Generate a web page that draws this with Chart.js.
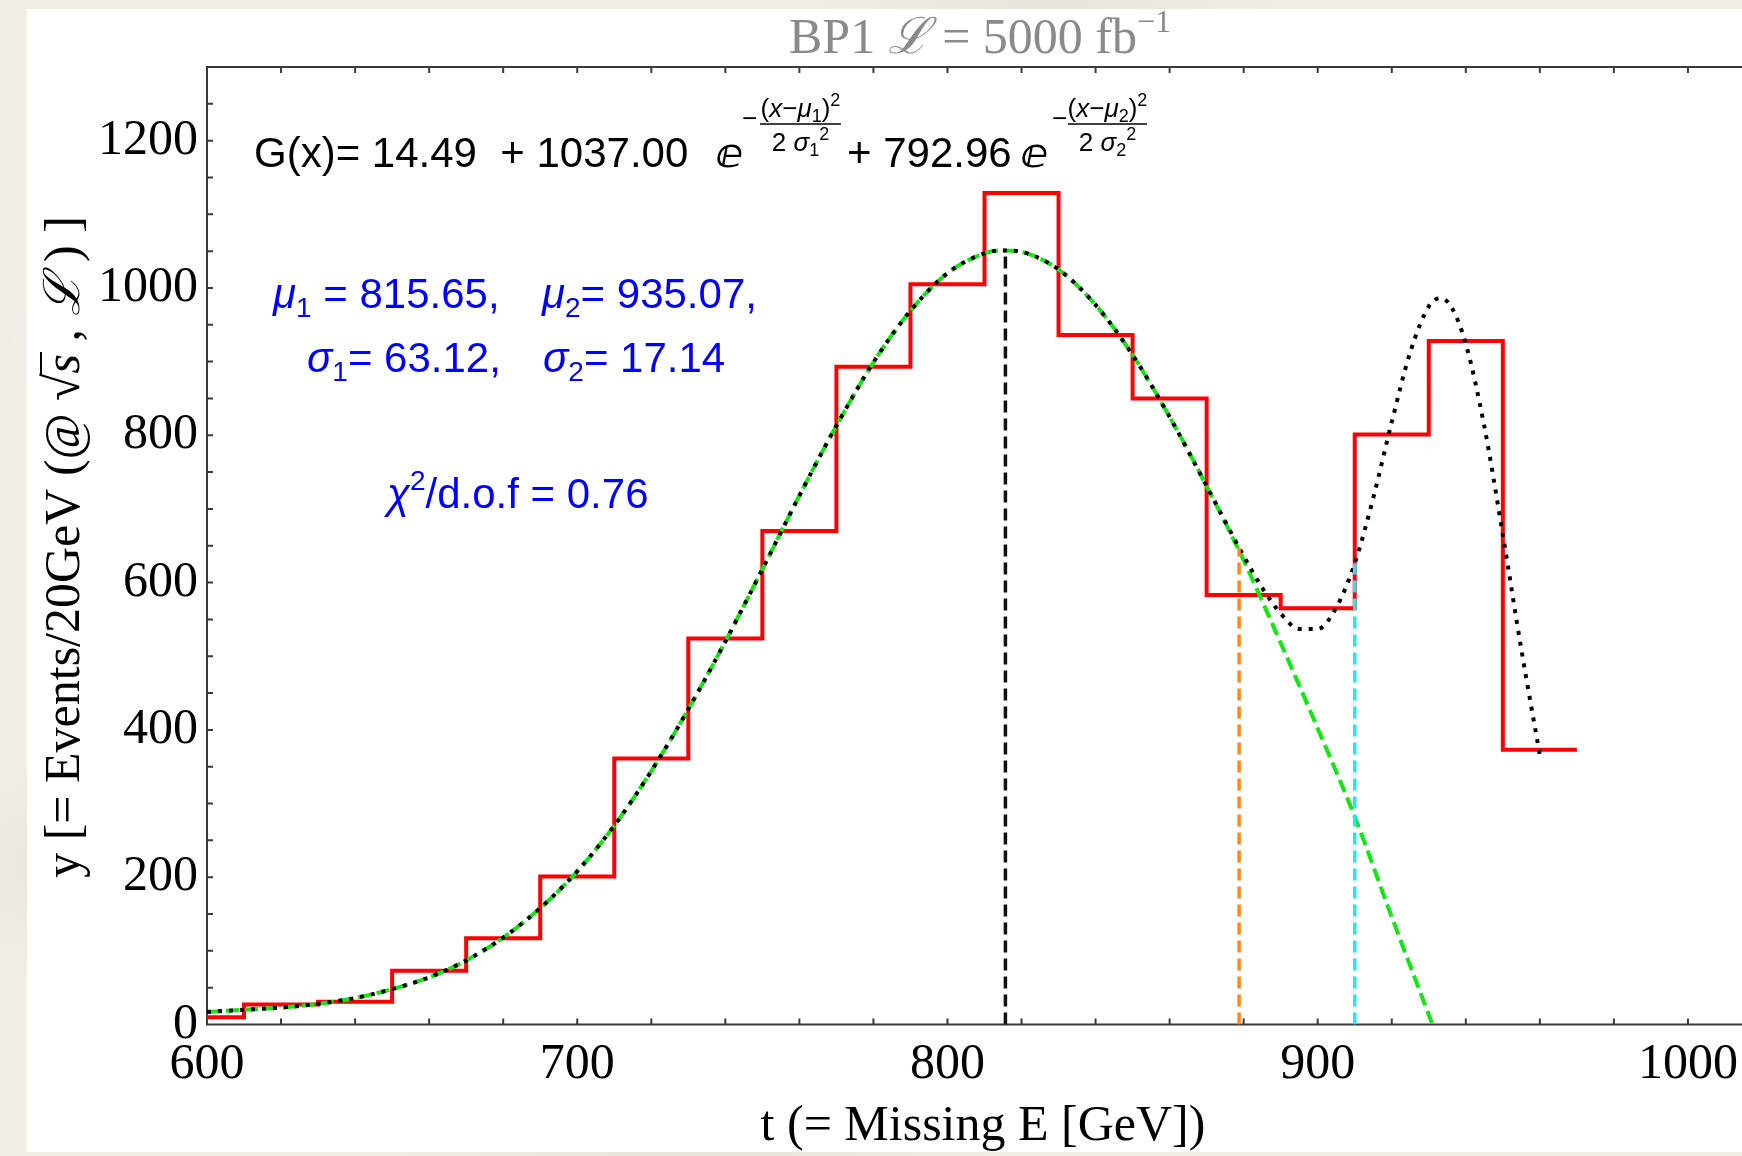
<!DOCTYPE html>
<html>
<head>
<meta charset="utf-8">
<title>BP1 missing energy fit</title>
<script src="https://cdn.jsdelivr.net/npm/chart.js@4.4.1/dist/chart.umd.min.js"></script>
<style>
  html, body { margin: 0; padding: 0; }
  body {
    width: 1742px; height: 1156px; overflow: hidden; position: relative;
    background-color: #f1eee8;
    background-image:
      radial-gradient(ellipse 300px 120px at 12% 30%, rgba(255,255,255,0.55), transparent 70%),
      radial-gradient(ellipse 260px 160px at 5% 75%, rgba(225,220,210,0.5), transparent 70%),
      radial-gradient(ellipse 400px 90px at 60% 0%, rgba(228,223,214,0.6), transparent 70%),
      radial-gradient(ellipse 500px 80px at 40% 100%, rgba(226,221,212,0.6), transparent 70%);
  }
  #card { position: absolute; left: 27px; top: 9px; width: 1800px; height: 1143px; background: #ffffff; }
  #chart { position: absolute; left: 0; top: 0; }
</style>
</head>
<body>
<div id="card"></div>
<canvas id="chart" width="1800" height="1156"></canvas>
<script>
// histogram: left edge of each 20 GeV bin and the event count in it
const binEdges = [590, 610, 630, 650, 670, 690, 710, 730, 750, 770, 790, 810, 830, 850, 870, 890, 910, 930, 950];
const binEnd = 970;
const binCounts = [10, 27, 31, 73, 117, 201, 361, 524, 670, 893, 1005, 1129, 936, 850, 583, 565, 801, 928, 373];

// full fit G(x) (black dotted)
const fitX = [600, 610, 620, 630, 640, 650, 660, 670, 680, 690, 700, 710, 720, 730, 740, 750, 760, 770, 780, 790,
              800, 810, 815, 820, 830, 840, 850, 860, 870, 875, 880, 885, 890, 895, 900, 905, 910, 915, 920, 925,
              930, 933, 936, 940, 945, 950, 955, 960];
const fitY = [17, 20, 23, 28, 36, 48, 64, 87, 118, 158, 208, 270, 344, 428, 520, 618, 718, 813, 899, 969,
              1020, 1047, 1051, 1049, 1025, 977, 909, 825, 731, 683, 636, 593, 558, 537, 537, 566, 626, 715, 818, 913,
              975, 986, 975, 924, 812, 665, 509, 366];

// first peak alone (green dashed)
const peakX = [600, 610, 620, 630, 640, 650, 660, 670, 680, 690, 700, 710, 720, 730, 740, 750, 760, 770, 780, 790,
               800, 810, 815, 820, 830, 840, 850, 860, 870, 880, 890, 900, 910, 920, 931];
const peakY = [17, 20, 23, 28, 36, 48, 64, 87, 118, 158, 208, 270, 344, 428, 520, 618, 718, 813, 899, 969,
               1020, 1047, 1051, 1049, 1025, 977, 909, 825, 731, 630, 518, 402, 282, 146, 0];

// vertical markers: mu1, mu1 + sigma1, and the cut at 910
const markerX = [815.65, 878.77, 910];
const markerTop = [1051.5, 647, 626];
const markerColors = ['#111111', '#ff8a1a', '#22e6ff'];

const xTickValues = [600, 700, 800, 900, 1000];
const yTickValues = [0, 200, 400, 600, 800, 1000, 1200];

const SERIF = '"Liberation Serif", "DejaVu Serif", serif';
const SANS = '"Liberation Sans", "DejaVu Sans", sans-serif';

const histPoints = binEdges.map((e, i) => ({ x: e, y: binCounts[i] }));
histPoints.push({ x: binEnd, y: binCounts[binCounts.length - 1] });

const datasets = [
  // 'before': run flat at the previous count, then step at the next edge
  { label: 'data', data: histPoints, stepped: 'before', borderColor: '#ff0000', borderWidth: 4, order: 4 },
  { label: 'peak 1', data: peakX.map((x, i) => ({ x, y: peakY[i] })), borderColor: '#12e612', borderWidth: 4,
    borderDash: [13, 6], cubicInterpolationMode: 'monotone', order: 3 },
  { label: 'G(x)', data: fitX.map((x, i) => ({ x, y: fitY[i] })), borderColor: '#000000', borderWidth: 4,
    borderDash: [4, 7], cubicInterpolationMode: 'monotone', order: 2 }
];
markerX.forEach((x, i) => {
  datasets.push({ label: 'marker ' + i, data: [{ x, y: 0 }, { x, y: markerTop[i] }],
    borderColor: markerColors[i], borderWidth: 3.5, borderDash: [12, 6], order: 1 });
});

// draw a run of text pieces left to right, return the end x
function runs(ctx, x, y, parts) {
  for (const p of parts) {
    ctx.font = p.f;
    ctx.fillText(p.t, x, y + (p.dy || 0));
    x += ctx.measureText(p.t).width;
  }
  return x;
}
function runsWidth(ctx, parts) {
  let w = 0;
  for (const p of parts) { ctx.font = p.f; w += ctx.measureText(p.t).width; }
  return w;
}
function fraction(ctx, x0, x1, barY, num, den) {
  const cx = (x0 + x1) / 2;
  runs(ctx, cx - runsWidth(ctx, num) / 2, barY - 7, num);
  runs(ctx, cx - runsWidth(ctx, den) / 2, barY + 27, den);
  ctx.lineWidth = 1.5;
  ctx.beginPath();
  ctx.moveTo(x0, barY); ctx.lineTo(x1, barY);
  ctx.stroke();
}

// frame with inward ticks on left, bottom and top
const frame = {
  id: 'frame',
  beforeDatasetsDraw(chart) {
    const { ctx, chartArea: a, scales: { x, y } } = chart;
    ctx.save();
    ctx.strokeStyle = '#3a3a3a';
    ctx.lineWidth = 2;
    ctx.beginPath();
    ctx.moveTo(a.right, a.top); ctx.lineTo(a.left, a.top); ctx.lineTo(a.left, a.bottom); ctx.lineTo(a.right, a.bottom);
    for (let v = 620; v <= 1020; v += 20) {
      const px = x.getPixelForValue(v);
      ctx.moveTo(px, a.bottom); ctx.lineTo(px, a.bottom - 6);
      ctx.moveTo(px, a.top); ctx.lineTo(px, a.top + 6);
    }
    for (let v = 50; v < 1300; v += 50) {
      const py = y.getPixelForValue(v);
      ctx.moveTo(a.left, py); ctx.lineTo(a.left + 6, py);
    }
    ctx.stroke();
    ctx.restore();
  }
};

// title, axis titles, fit formula and parameters
const annotations = {
  id: 'annotations',
  afterDraw(chart) {
    const ctx = chart.ctx;
    ctx.save();
    ctx.textAlign = 'left';
    ctx.textBaseline = 'alphabetic';

    // title
    ctx.fillStyle = '#8a8a8a';
    const title = [
      { f: '50px ' + SERIF, t: 'BP1 ' },
      { f: 'italic 50px ' + SERIF, t: 'ℒ' },
      { f: '50px ' + SERIF, t: ' = 5000 fb' },
      { f: '32px ' + SERIF, t: '−1', dy: -21 }
    ];
    runs(ctx, 980 - runsWidth(ctx, title) / 2, 53, title);

    // x axis title
    ctx.fillStyle = '#000';
    const xt = [{ f: '50px ' + SERIF, t: 't (= Missing E [GeV])' }];
    runs(ctx, 983 - runsWidth(ctx, xt) / 2, 1140, xt);

    // y axis title, rotated
    ctx.save();
    ctx.translate(79, 547);
    ctx.rotate(-Math.PI / 2);
    const f50 = '50px ' + SERIF;
    const p1 = [{ f: f50, t: 'y [= Events/20GeV (@ ' }];
    const p2 = [{ f: f50, t: '√' }];
    const p3 = [{ f: 'italic 50px ' + SERIF, t: 's' }];
    const p4 = [{ f: f50, t: ' , ' }, { f: 'italic 50px ' + SERIF, t: 'ℒ' }, { f: f50, t: ' ) ]' }];
    const total = runsWidth(ctx, p1) + runsWidth(ctx, p2) + runsWidth(ctx, p3) + runsWidth(ctx, p4);
    let cx = -total / 2;
    cx = runs(ctx, cx, 0, p1);
    cx = runs(ctx, cx, 0, p2);
    const sStart = cx;
    cx = runs(ctx, cx, 0, p3);
    ctx.strokeStyle = '#000';
    ctx.lineWidth = 2;
    ctx.beginPath();
    ctx.moveTo(sStart - 2, -38); ctx.lineTo(cx + 2, -38);
    ctx.stroke();
    runs(ctx, cx, 0, p4);
    ctx.restore();

    // fit formula
    ctx.fillStyle = '#000';
    ctx.strokeStyle = '#000';
    const big = '42px ' + SANS;
    const ex = '26px ' + SANS, exi = 'italic 26px ' + SANS, exs = '18px ' + SANS;
    const eFont = 'italic bold 40px "DejaVu Sans", sans-serif';
    runs(ctx, 254, 167, [{ f: big, t: 'G(x)= 14.49  + 1037.00' }]);
    runs(ctx, 716, 167, [{ f: eFont, t: 'ⅇ' }]);
    runs(ctx, 742, 127, [{ f: ex, t: '−' }]);
    fraction(ctx, 760, 841, 124,
      [{ f: ex, t: '(' }, { f: exi, t: 'x' }, { f: ex, t: '−' }, { f: exi, t: 'μ' }, { f: exs, t: '1', dy: 5 },
       { f: ex, t: ')' }, { f: exs, t: '2', dy: -11 }],
      [{ f: ex, t: '2 ' }, { f: exi, t: 'σ' }, { f: exs, t: '1', dy: 5 }, { f: exs, t: '2', dy: -11 }]);
    runs(ctx, 847, 167, [{ f: big, t: '+ 792.96' }]);
    runs(ctx, 1021, 167, [{ f: eFont, t: 'ⅇ' }]);
    runs(ctx, 1052, 127, [{ f: ex, t: '−' }]);
    fraction(ctx, 1068, 1147, 124,
      [{ f: ex, t: '(' }, { f: exi, t: 'x' }, { f: ex, t: '−' }, { f: exi, t: 'μ' }, { f: exs, t: '2', dy: 5 },
       { f: ex, t: ')' }, { f: exs, t: '2', dy: -11 }],
      [{ f: ex, t: '2 ' }, { f: exi, t: 'σ' }, { f: exs, t: '2', dy: 5 }, { f: exs, t: '2', dy: -11 }]);

    // fit parameters
    ctx.fillStyle = '#0000ff';
    const b = '42px ' + SANS, bi = 'italic 42px ' + SANS, bs = '28px ' + SANS;
    runs(ctx, 273, 308, [{ f: bi, t: 'μ' }, { f: bs, t: '1', dy: 9 }, { f: b, t: ' = 815.65,' }]);
    runs(ctx, 542, 308, [{ f: bi, t: 'μ' }, { f: bs, t: '2', dy: 9 }, { f: b, t: '= 935.07,' }]);
    runs(ctx, 307, 372, [{ f: bi, t: 'σ' }, { f: bs, t: '1', dy: 9 }, { f: b, t: '= 63.12,' }]);
    runs(ctx, 543, 372, [{ f: bi, t: 'σ' }, { f: bs, t: '2', dy: 9 }, { f: b, t: '= 17.14' }]);
    runs(ctx, 387, 508, [{ f: bi, t: 'χ' }, { f: bs, t: '2', dy: -18 }, { f: b, t: '/d.o.f = 0.76' }]);
    ctx.restore();
  }
};

new Chart(document.getElementById('chart'), {
  type: 'line',
  data: { datasets: datasets },
  options: {
    responsive: false,
    animation: false,
    devicePixelRatio: 1,
    layout: { padding: { left: 0, right: 38, top: 67, bottom: 0 } },
    elements: { point: { radius: 0 }, line: { fill: false, borderCapStyle: 'butt' } },
    plugins: { legend: { display: false }, tooltip: { enabled: false }, title: { display: false } },
    scales: {
      x: {
        type: 'linear', min: 600, max: 1020,
        grid: { display: false, drawTicks: false },
        border: { display: false },
        afterBuildTicks: s => { s.ticks = xTickValues.map(v => ({ value: v })); },
        afterFit: s => { s.height = 131.5; },
        ticks: { color: '#000', font: { family: SERIF, size: 50 }, padding: 10,
                 maxRotation: 0, autoSkip: false, callback: v => String(v) }
      },
      y: {
        type: 'linear', min: 0, max: 1300,
        grid: { display: false, drawTicks: false },
        border: { display: false },
        afterBuildTicks: s => { s.ticks = yTickValues.map(v => ({ value: v })); },
        afterFit: s => { s.width = 207; },
        ticks: { color: '#000', font: { family: SERIF, size: 50 }, padding: 9,
                 autoSkip: false, callback: v => String(v) }
      }
    }
  },
  plugins: [frame, annotations]
});
</script>
</body>
</html>
